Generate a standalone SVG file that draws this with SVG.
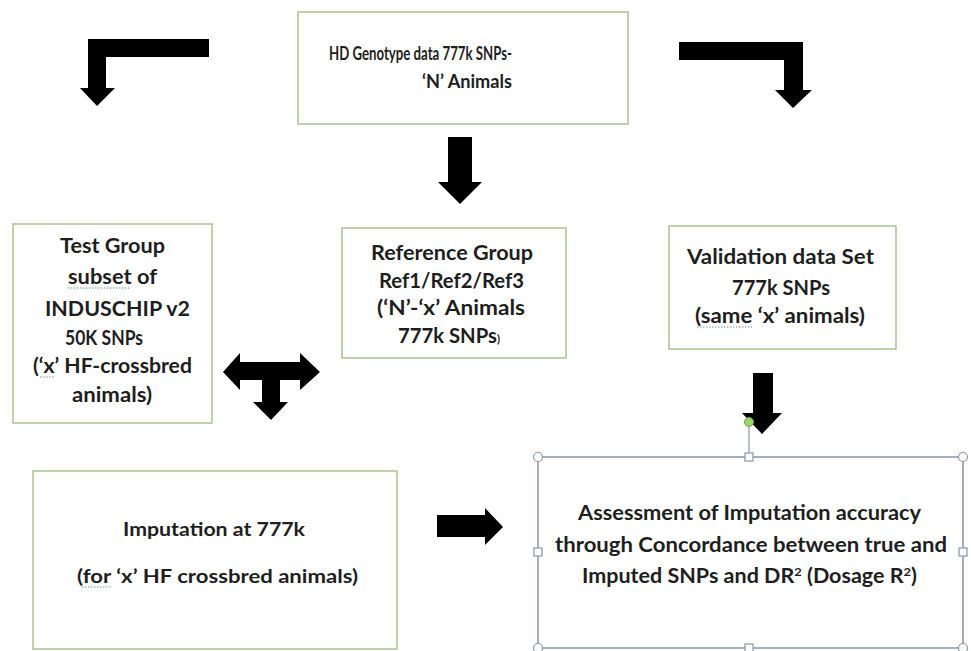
<svg xmlns="http://www.w3.org/2000/svg" width="971" height="651" viewBox="0 0 971 651">
<style>
.box{fill:#fff;stroke:#a8c58c;stroke-width:1.5}
.sel{fill:#fff;stroke:#8597ad;stroke-width:1.5}
.arr{fill:#000}
.t{font-family:Lato,"Open Sans","Liberation Sans",sans-serif;font-weight:700;fill:#1e1e1e;text-anchor:middle}
.s15{font-size:19px}.s17{font-size:19px}.s18{font-size:20px}
.sq{fill:none;stroke:#5a9a8a;stroke-width:1;stroke-dasharray:1.5,1.5}
.h{fill:#fff;stroke:#8597ad;stroke-width:1.2}
</style>
<rect width="971" height="651" fill="#fff"/>
<g id="connectors">
<polygon class="arr" points="209,39 88,39 88,88 80,88 97,106 115,88 106,88 106,57 209,57"/>
<polygon class="arr" points="679,42 803,42 803,90 812,90 793,108 775,90 784,90 784,60 679,60"/>
<polygon class="arr" points="448,137 472,137 472,182 482,182 460,204 438,182 448,182"/>
<polygon class="arr" points="223,372 240,353 240,362 300,362 300,353 320,372 300,390 300,380 280,380 280,402 288,402 271,420 253,402 262,402 262,380 240,380 240,390"/>
<polygon class="arr" points="753,373 773,373 773,413 782,413 762,434 742,413 753,413"/>
<polygon class="arr" points="437,515 485,515 485,508 503,527 485,545 485,537 437,537"/>
</g>
<g id="node-hd">
<rect class="box" x="298" y="12" width="330" height="112"/>
<text class="t s15" x="420.5" y="60" textLength="183" lengthAdjust="spacingAndGlyphs">HD Genotype data 777k SNPs-</text>
<text class="t s15" x="467" y="88" textLength="90" lengthAdjust="spacingAndGlyphs">‘N’ Animals</text>
</g>
<g id="node-test">
<rect class="box" x="13" y="224" width="199" height="199"/>
<text class="t s18" x="112.5" y="253" textLength="105" lengthAdjust="spacingAndGlyphs">Test Group</text>
<text class="t s18" x="112.5" y="284" textLength="89" lengthAdjust="spacingAndGlyphs">subset of</text>
<text class="t s18" x="117.5" y="316" textLength="145" lengthAdjust="spacingAndGlyphs">INDUSCHIP v2</text>
<text class="t s18" x="104" y="345" textLength="78" lengthAdjust="spacingAndGlyphs">50K SNPs</text>
<text class="t s18" x="112.5" y="373" textLength="159" lengthAdjust="spacingAndGlyphs">(‘x’ HF-crossbred</text>
<text class="t s18" x="112" y="402" textLength="80" lengthAdjust="spacingAndGlyphs">animals)</text>
<line class="sq" x1="68" y1="288" x2="130" y2="288"/>
<line class="sq" x1="40" y1="377" x2="55" y2="377"/>
</g>
<g id="node-ref">
<rect class="box" x="342" y="228" width="224" height="130"/>
<text class="t s18" x="452" y="260" textLength="162" lengthAdjust="spacingAndGlyphs">Reference Group</text>
<text class="t s18" x="451.5" y="288" textLength="145" lengthAdjust="spacingAndGlyphs">Ref1/Ref2/Ref3</text>
<text class="t s18" x="451" y="315" textLength="148" lengthAdjust="spacingAndGlyphs">(‘N’-‘x’ Animals</text>
<text class="t s18" x="449" y="343" textLength="102" lengthAdjust="spacingAndGlyphs">777k SNPs<tspan font-size="11">)</tspan></text>
</g>
<g id="node-validation">
<rect class="box" x="669" y="226" width="227" height="123"/>
<text class="t s18" x="780.5" y="264" textLength="187" lengthAdjust="spacingAndGlyphs">Validation data Set</text>
<text class="t s18" x="781" y="295" textLength="98" lengthAdjust="spacingAndGlyphs">777k SNPs</text>
<text class="t s18" x="780" y="323" textLength="170" lengthAdjust="spacingAndGlyphs">(same ‘x’ animals)</text>
<line class="sq" x1="697" y1="327" x2="752" y2="327"/>
</g>
<g id="node-imputation">
<rect class="box" x="33" y="471" width="364" height="178"/>
<text class="t s17" x="214" y="536" textLength="182" lengthAdjust="spacingAndGlyphs">Imputation at 777k</text>
<text class="t s17" x="217.5" y="583" textLength="281" lengthAdjust="spacingAndGlyphs">(for ‘x’ HF crossbred animals)</text>
<line class="sq" x1="82" y1="587" x2="112" y2="587"/>
</g>
<g id="node-assessment">
<rect class="sel" x="538" y="457" width="425" height="191"/>
<text class="t s18" x="749.5" y="520" textLength="343" lengthAdjust="spacingAndGlyphs">Assessment of Imputation accuracy</text>
<text class="t s18" x="751" y="552" textLength="392" lengthAdjust="spacingAndGlyphs">through Concordance between true and</text>
<text class="t s18" x="749.5" y="583" textLength="335" lengthAdjust="spacingAndGlyphs">Imputed SNPs and DR<tspan font-size="12" dy="-7">2</tspan><tspan dy="7"> (Dosage R</tspan><tspan font-size="12" dy="-7">2</tspan><tspan dy="7">)</tspan></text>
<line x1="749" y1="422" x2="749" y2="457" stroke="#8597ad" stroke-width="1.2"/>
<circle cx="749" cy="422" r="4.5" fill="#9bd46a" stroke="#6fa04a" stroke-width="1"/>
<circle class="h" cx="538" cy="457" r="4.5"/>
<circle class="h" cx="963" cy="457" r="4.5"/>
<circle class="h" cx="538" cy="648" r="4.5"/>
<circle class="h" cx="963" cy="648" r="4.5"/>
<rect class="h" x="745" y="453" width="8" height="8"/>
<rect class="h" x="534" y="548" width="8" height="8"/>
<rect class="h" x="959" y="548" width="8" height="8"/>
<rect class="h" x="745" y="644" width="8" height="8"/>
</g>
</svg>
